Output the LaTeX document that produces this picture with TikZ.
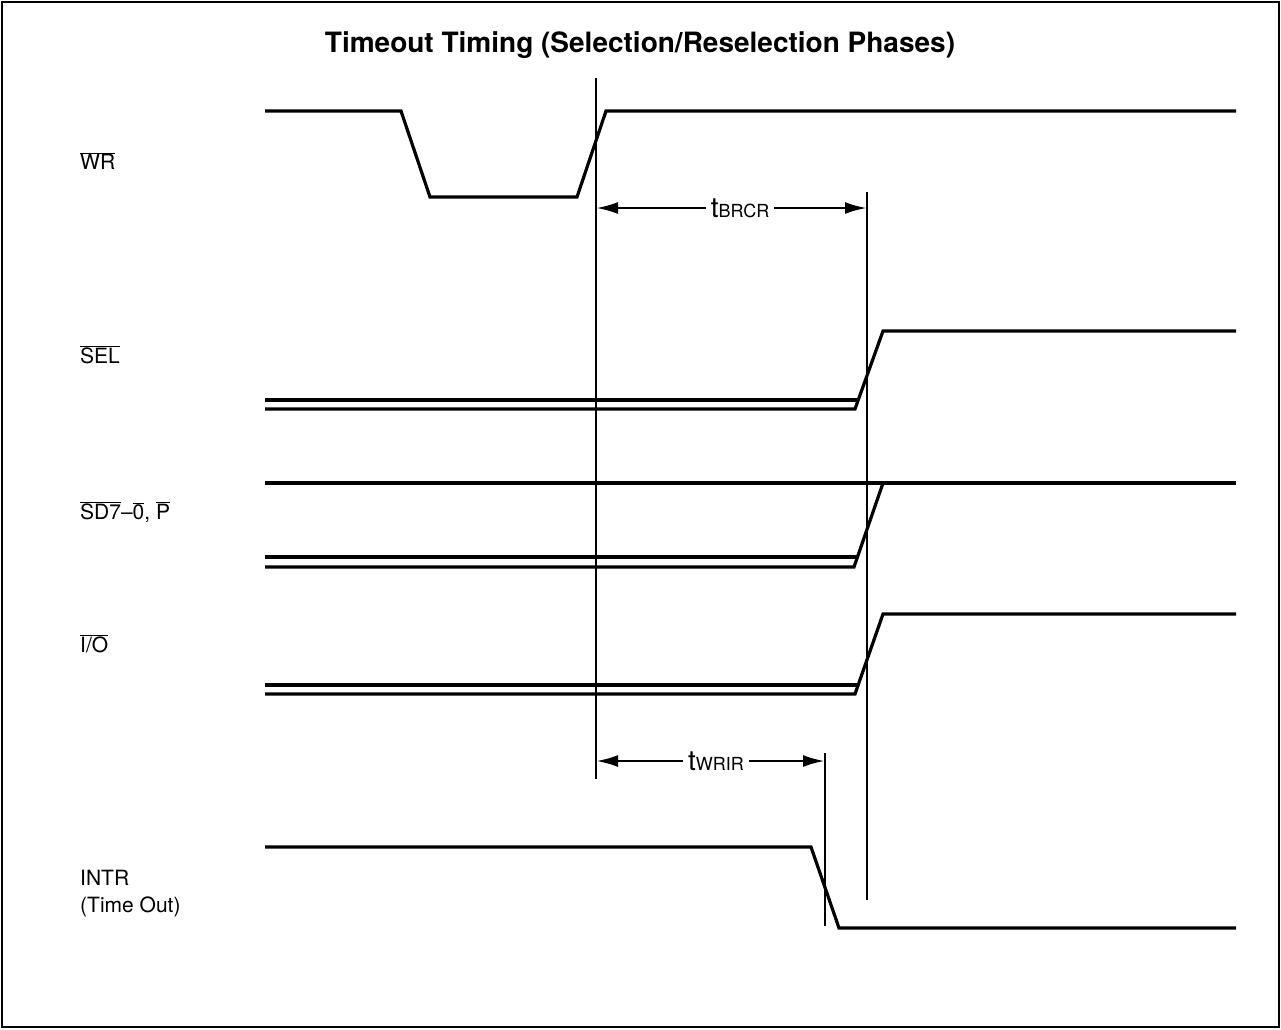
\documentclass[tikz,border=0pt]{standalone}
\usepackage{fontspec}
\setmainfont{TeX Gyre Heros}
\usetikzlibrary{arrows.meta,positioning}
\tikzset{%
      wave/.style={draw, line width=3.2pt, line join=miter},
      wavebus/.style={draw, line width=4.2pt},
      marker/.style={draw, line width=2.8pt},
      span/.style={draw, line width=2.8pt, -{Latex[length=22pt,width=12pt]}},
      signame/.style={anchor=west, font=\fontsize{21}{27}\selectfont, inner sep=0pt, align=left},
      tlabel/.style={font=\fontsize{28}{28}\selectfont, inner sep=5pt},
    }
\newcommand{\inv}[1]{$\overline{\mbox{#1}}$}
\newcommand{\tsub}[1]{t{\fontsize{18}{18}\selectfont #1}}

\begin{document}
\begin{tikzpicture}[x=1pt,y=-1pt]
      \useasboundingbox (0,0) rectangle (1281,1029);
      \draw [line width=2.2pt] (2,2) rectangle (1279,1027);

      % Title
      \node (title) at (640,45) {\fontsize{28}{32}\selectfont\bfseries Timeout Timing (Selection/Reselection Phases)};

      % Signal names
      \node (nwr) [signame] at (80,161) {\inv{WR}};
      \node (nsel) [signame] at (80,355) {\inv{SEL}};
      \node (nsd) [signame] at (80,512) {\inv{SD7}--\inv{0}, \inv{P}};
      \node (nio) [signame] at (80,644) {\inv{I/O}};
      \node (nintr) [signame] at (80,894) {INTR\\(Time Out)};

      % Reference markers
      \coordinate (m1top) at (596,78);
      \coordinate (m1bot) at (596,779);
      \coordinate (m2top) at (867,192);
      \coordinate (m2bot) at (867,900);
      \coordinate (m3top) at (825,753);
      \coordinate (m3bot) at (825,926);
      \path [marker] (m1top) -- (m1bot);
      \path [marker] (m2top) -- (m2bot);
      \path [marker] (m3top) -- (m3bot);

      % Waveforms
      \path [wave] (265,111) -- (401,111) -- (430,197) -- (577,197) -- (606,111) -- (1236,111);

      \path [wavebus] (265,400) -- (858,400);
      \path [wave] (265,409) -- (855,409) -- (883,331) -- (1236,331);

      \path [wave] (265,483) -- (1236,483);
      \path [wavebus] (265,557) -- (858,557);
      \path [wave] (265,567) -- (854,567) -- (883,483);

      \path [wavebus] (265,685) -- (858,685);
      \path [wave] (265,694) -- (855,694) -- (883,614) -- (1236,614);

      \path [wave] (265,847) -- (811,847) -- (839,928) -- (1236,928);

      % Timing intervals
      \node (tbrcr) [tlabel] at (740,208) {\tsub{BRCR}};
      \path [span] (tbrcr.west) -- (tbrcr.west -| m1top);
      \path [span] (tbrcr.east) -- (tbrcr.east -| m2top);

      \node (twrir) [tlabel] at (716,761) {\tsub{WRIR}};
      \path [span] (twrir.west) -- (twrir.west -| m1top);
      \path [span] (twrir.east) -- (twrir.east -| m3top);

\end{tikzpicture}
\end{document}
